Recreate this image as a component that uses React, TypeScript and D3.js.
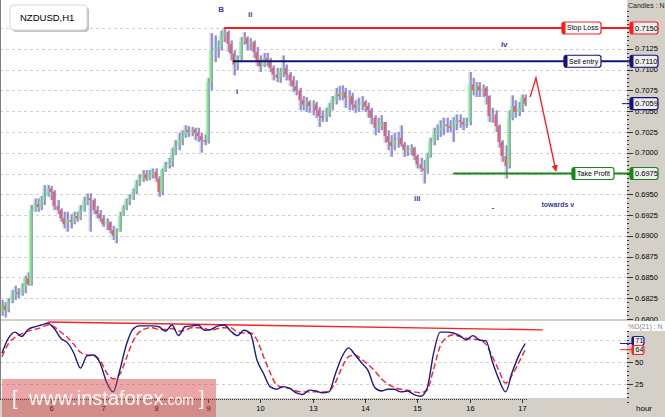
import React from "react";
import * as d3 from "d3";

// NZDUSD H1 candles, oldest first (open of each bar = previous close)
const firstOpen = 0.6804;
const highs = [
  0.6817, 0.6823, 0.682, 0.6825, 0.6835, 0.684, 0.6837, 0.6843, 0.6852, 0.6856,
  0.6937, 0.6945, 0.6945, 0.6948, 0.6961, 0.6961, 0.696, 0.6955, 0.6943, 0.6933,
  0.6929, 0.6929, 0.6926, 0.6929, 0.6929, 0.6937, 0.6947, 0.6951, 0.6951, 0.6945,
  0.6936, 0.6931, 0.6925, 0.6921, 0.6917, 0.6912, 0.6909, 0.6929, 0.6937, 0.6945,
  0.695, 0.6957, 0.6967, 0.6974, 0.6979, 0.6979, 0.6979, 0.6981, 0.6981, 0.6972,
  0.6981, 0.6989, 0.6994, 0.7006, 0.7015, 0.7024, 0.7027, 0.7033, 0.7032, 0.7031,
  0.703, 0.703, 0.7024, 0.7022, 0.709, 0.7144, 0.7141, 0.7135, 0.7147, 0.7151,
  0.7147, 0.7135, 0.7123, 0.7117, 0.7139, 0.7145, 0.714, 0.7138, 0.7135, 0.7127,
  0.7117, 0.712, 0.712, 0.7114, 0.7105, 0.7102, 0.7102, 0.7117, 0.7106, 0.7097,
  0.7092, 0.7087, 0.7078, 0.7068, 0.7067, 0.7063, 0.7063, 0.7061, 0.7055, 0.7051,
  0.7054, 0.706, 0.7068, 0.7078, 0.708, 0.7081, 0.7078, 0.7075, 0.7072, 0.7063,
  0.7066, 0.7068, 0.7063, 0.706, 0.7054, 0.7045, 0.7042, 0.7045, 0.7037, 0.7027,
  0.7021, 0.7024, 0.7025, 0.7033, 0.7013, 0.7009, 0.701, 0.7007, 0.6998, 0.6994,
  0.6991, 0.7, 0.7018, 0.703, 0.7034, 0.7039, 0.7042, 0.7042, 0.7039, 0.7043,
  0.7046, 0.7046, 0.7042, 0.7042, 0.7097, 0.709, 0.7085, 0.7085, 0.7082, 0.708,
  0.7069, 0.7054, 0.7051, 0.7034, 0.7015, 0.7009, 0.7051, 0.7069, 0.7063, 0.7061,
  0.707, 0.707,
];
const lows = [
  0.6801, 0.6804, 0.6802, 0.6808, 0.6819, 0.6823, 0.6825, 0.6828, 0.6831, 0.684,
  0.684, 0.6929, 0.6929, 0.6931, 0.6937, 0.6947, 0.6943, 0.6931, 0.6926, 0.6917,
  0.6909, 0.6905, 0.6909, 0.6914, 0.6917, 0.6919, 0.6929, 0.6937, 0.6905, 0.6926,
  0.6921, 0.6917, 0.6911, 0.6907, 0.6903, 0.6895, 0.6891, 0.6905, 0.6924, 0.6931,
  0.6937, 0.6943, 0.695, 0.696, 0.6965, 0.6966, 0.6967, 0.6969, 0.6965, 0.6947,
  0.6949, 0.6977, 0.6981, 0.6983, 0.6997, 0.7003, 0.7009, 0.7018, 0.7019, 0.702,
  0.7015, 0.7013, 0.7, 0.7009, 0.7011, 0.7075, 0.7109, 0.7114, 0.7123, 0.7133,
  0.7121, 0.7111, 0.7093, 0.7099, 0.7111, 0.713, 0.7123, 0.7123, 0.7114, 0.7104,
  0.7097, 0.7103, 0.7104, 0.7097, 0.7087, 0.7085, 0.7084, 0.7091, 0.7087, 0.708,
  0.7073, 0.7069, 0.7051, 0.7051, 0.7049, 0.7048, 0.7045, 0.7042, 0.7031, 0.7037,
  0.7037, 0.7043, 0.7051, 0.7058, 0.7063, 0.7063, 0.7054, 0.7051, 0.7051, 0.7048,
  0.7049, 0.7051, 0.7049, 0.7042, 0.7034, 0.7021, 0.7024, 0.7027, 0.7012, 0.7003,
  0.6995, 0.7003, 0.7006, 0.7007, 0.6995, 0.6996, 0.6997, 0.6991, 0.6981, 0.6977,
  0.6963, 0.6975, 0.6994, 0.7009, 0.7015, 0.7019, 0.7021, 0.7024, 0.7025, 0.7013,
  0.7027, 0.703, 0.7027, 0.703, 0.7033, 0.7069, 0.7067, 0.7067, 0.7067, 0.7058,
  0.7037, 0.7036, 0.7025, 0.7006, 0.6989, 0.6969, 0.6981, 0.7039, 0.7042, 0.7044,
  0.7049, 0.7056,
];
const closes = [
  0.6808, 0.6816, 0.6811, 0.6822, 0.6828, 0.6832, 0.683, 0.6837, 0.6849, 0.6842,
  0.6931, 0.6938, 0.6935, 0.6943, 0.6948, 0.6957, 0.6953, 0.6936, 0.6931, 0.6921,
  0.6914, 0.6919, 0.6917, 0.6924, 0.6921, 0.6931, 0.6941, 0.6945, 0.6943, 0.6931,
  0.6926, 0.6921, 0.6914, 0.6917, 0.6907, 0.69, 0.6905, 0.6924, 0.6933, 0.6941,
  0.6945, 0.6953, 0.6962, 0.6969, 0.6974, 0.6969, 0.6973, 0.6977, 0.6969, 0.6953,
  0.6979, 0.6985, 0.6989, 0.6997, 0.7008, 0.7015, 0.702, 0.7027, 0.7025, 0.7028,
  0.7024, 0.702, 0.7015, 0.7013, 0.7085, 0.7123, 0.7127, 0.7129, 0.714, 0.7145,
  0.7131, 0.7119, 0.7106, 0.7114, 0.7133, 0.7138, 0.7131, 0.7133, 0.7121, 0.7111,
  0.7104, 0.7114, 0.7111, 0.7102, 0.7094, 0.709, 0.7097, 0.7102, 0.7094, 0.7087,
  0.708, 0.7075, 0.7063, 0.7058, 0.7061, 0.7056, 0.7058, 0.7051, 0.7044, 0.7042,
  0.7046, 0.7056, 0.7063, 0.707, 0.7068, 0.7073, 0.7066, 0.7068, 0.7058, 0.7054,
  0.7058, 0.7061, 0.7056, 0.7051, 0.7042, 0.703, 0.7032, 0.7037, 0.702, 0.7013,
  0.7008, 0.7015, 0.7018, 0.701, 0.7003, 0.7003, 0.7006, 0.6996, 0.6986, 0.6981,
  0.6979, 0.6994, 0.7013, 0.7022, 0.7027, 0.703, 0.7034, 0.7032, 0.703, 0.7034,
  0.7039, 0.7037, 0.7034, 0.7037, 0.7082, 0.7075, 0.708, 0.7075, 0.7078, 0.7068,
  0.7044, 0.7046, 0.7032, 0.7013, 0.6996, 0.6984, 0.7042, 0.7056, 0.7049, 0.7054,
  0.7066, 0.7059,
];

// stochastic, sampled every second bar starting at bar 1
const kValues = [
  60, 77, 84, 79, 87, 90, 92, 94, 88, 77, 72, 60, 43, 57, 58, 49, 27, 16, 40, 69,
  87, 91, 91, 91, 90, 85, 92, 80, 90, 91, 92, 86, 87, 91, 92, 85, 80, 86, 82, 52,
  37, 22, 19, 22, 20, 15, 13, 18, 17, 15, 16, 37, 56, 66, 58, 49, 40, 21, 17, 19,
  19, 16, 17, 13, 11, 20, 60, 84, 84, 83, 80, 75, 80, 75, 74, 50, 30, 16, 38, 57,
  71,
];
const dValues = [
  56, 71, 78, 82, 85, 87, 89, 92, 90, 84, 78, 70, 61, 58, 57, 52, 38, 31, 36, 54,
  73, 84, 88, 89, 87, 87, 88, 85, 86, 89, 89, 88, 86, 88, 89, 89, 84, 83, 83, 75,
  56, 38, 24, 21, 20, 17, 16, 16, 16, 16, 17, 27, 44, 56, 58, 53, 47, 40, 31, 25,
  21, 19, 18, 16, 15, 18, 42, 68, 78, 81, 79, 77, 76, 75, 70, 56, 40, 26, 35, 49,
  64,
];

const dayLabels = ["6", "7", "8", "9", "10", "13", "14", "15", "16", "17"];
const barsPerDay = 16;
const priceTicks = d3.range(0.68, 0.7151, 0.0025);
const stochTicks = [25, 50, 75];

const levelNames = ["Stop Loss", "Sell entry", "Take Profit"];
const levelPrices = [0.715, 0.711, 0.6975];
const levelStartBars = [69, 71.6, 139];

const waveTexts = ["B", "ii", "i", "iii", "iv", "towards v", "-"];
const waveBars = [68, 76.9, 72.9, 128, 154.6, 171, 151.2];
const wavePrices = [0.7173, 0.7166, 0.7074, 0.6945, 0.7131, 0.6938, 0.6935];

const arrowBars = [162.5, 164.3, 170.4];
const arrowPrices = [0.7067, 0.709, 0.6978];

const trendBars = [15, 166.4];
const trendValues = [95.5, 86.5];

const lastK = 71;
const lastD = 64;

const W = 665;
const H = 417;
const PR = 627;
const FONT = "'Liberation Sans', Arial, sans-serif";

const x = d3.scaleLinear().domain([16, 160]).range([51, 521.9]);
const y = d3.scaleLinear().domain([0.68, 0.715]).range([319, 28]);
const yS = d3.scaleLinear().domain([0, 100]).range([406, 318]);

const COLORS = {
  sl: "#ff1a1a",
  entry: "#12127a",
  tp: "#138a13",
  wave: "#3a3a9c",
  k: "#1a1a8e",
  d: "#ff2020",
};
const levelColors = [COLORS.sl, COLORS.entry, COLORS.tp];

function Tag(props: {
  x0: number;
  yc: number;
  w: number;
  color: string;
  fill: string;
  text: string;
  h?: number;
  fs?: number;
  cap?: number;
}) {
  const h = props.h ?? 12;
  const cap = props.cap ?? 3.5;
  return (
    <g>
      <rect
        x={props.x0}
        y={props.yc - h / 2}
        width={props.w}
        height={h}
        rx={2.5}
        fill={props.fill}
        stroke={props.color}
        strokeWidth={1.2}
      />
      <rect
        x={props.x0}
        y={props.yc - h / 2}
        width={cap}
        height={h}
        rx={1.5}
        fill={props.color}
      />
      <text
        x={props.x0 + cap + 1.5}
        y={props.yc}
        dy="0.35em"
        fontSize={props.fs ?? 7.5}
        fill="#000"
      >
        {props.text}
      </text>
    </g>
  );
}

export default function App() {
  const opens = closes.map((_, i) => (i === 0 ? firstOpen : closes[i - 1]));

  const stochLine = d3
    .line<number>()
    .x((_, i) => x(1 + 2 * i))
    .y((v) => yS(v))
    .curve(d3.curveMonotoneX);

  const arrowPts: [number, number][] = arrowBars.map((b, i) => [
    x(b),
    y(arrowPrices[i]),
  ]);
  const lastClose = closes[closes.length - 1];

  return (
    <div style={{ position: "fixed", left: 0, top: 0 }}>
      <svg width={W} height={H} style={{ display: "block", fontFamily: FONT }}>
        <defs>
          <clipPath id="mainClip">
            <rect x={0} y={0} width={PR} height={319} />
          </clipPath>
          <clipPath id="stochClip">
            <rect x={0} y={321} width={PR} height={77} />
          </clipPath>
          <marker
            id="arrowHead"
            viewBox="0 0 10 10"
            refX={9}
            refY={5}
            markerWidth={5}
            markerHeight={5}
            orient="auto"
          >
            <path d="M0,0 L10,5 L0,10 z" fill={COLORS.sl} />
          </marker>
        </defs>

        {/* background */}
        <rect x={0} y={0} width={W} height={H} fill="#d4d0c8" />
        <rect x={0} y={0} width={PR} height={319} fill="#fff" />
        <rect x={0} y={321} width={PR} height={77} fill="#fff" />

        {/* main grid */}
        {priceTicks.map((p) => (
          <line
            key={"g" + p}
            x1={0}
            x2={PR}
            y1={Math.round(y(p)) + 0.5}
            y2={Math.round(y(p)) + 0.5}
            stroke="#cfcfcf"
            strokeDasharray="3,3"
          />
        ))}

        {/* candles */}
        <g clipPath="url(#mainClip)">
          {closes.map((c, i) => {
            const cx = Math.round(x(i));
            const o = opens[i];
            const top = y(Math.max(o, c));
            const bot = y(Math.min(o, c));
            return (
              <g key={"b" + i}>
                <rect
                  x={cx - 1.5}
                  y={y(highs[i])}
                  width={3}
                  height={y(lows[i]) - y(highs[i])}
                  fill="#bcbce0"
                  opacity={0.7}
                />
                <line
                  x1={cx + 1}
                  x2={cx + 1}
                  y1={y(highs[i])}
                  y2={y(lows[i])}
                  stroke="#5252b2"
                  strokeWidth={1}
                />
                <rect
                  x={cx - 1.5}
                  y={top}
                  width={2}
                  height={Math.max(1, bot - top)}
                  fill={c >= o ? "#78f878" : "#f65858"}
                />
              </g>
            );
          })}
        </g>

        {/* trade levels */}
        {levelPrices.map((p, i) => (
          <line
            key={"lv" + i}
            x1={x(levelStartBars[i])}
            x2={632}
            y1={y(p)}
            y2={y(p)}
            stroke={levelColors[i]}
            strokeWidth={2}
          />
        ))}

        {/* projected path */}
        <path
          d={d3.line()(arrowPts) ?? ""}
          fill="none"
          stroke={COLORS.sl}
          strokeWidth={1.3}
          markerEnd="url(#arrowHead)"
        />

        {/* wave labels */}
        {waveTexts.map((t, i) => (
          <text
            key={"w" + i}
            x={x(waveBars[i])}
            y={y(wavePrices[i])}
            dy="0.35em"
            textAnchor="middle"
            fontSize={t === "towards v" ? 7 : 8}
            fontWeight="bold"
            fill={COLORS.wave}
          >
            {t}
          </text>
        ))}

        {/* level labels */}
        <Tag x0={562} yc={y(levelPrices[0])} w={39} fs={7} color={COLORS.sl} fill="#fff" text={levelNames[0]} />
        <Tag x0={564} yc={y(levelPrices[1])} w={37} fs={7} color={COLORS.entry} fill="#fff" text={levelNames[1]} />
        <Tag x0={572} yc={y(levelPrices[2])} w={42} fs={7} color={COLORS.tp} fill="#fff" text={levelNames[2]} />

        {/* symbol box */}
        <rect x={12} y={7} width={77} height={25} rx={4} fill="#9a9a9a" opacity={0.6} />
        <rect x={10} y={5} width={77} height={25} rx={4} fill="#fff" stroke="#d8d8d8" />
        <text x={20} y={21} fontSize={9.5} fill="#000">
          NZDUSD,H1
        </text>

        {/* price axis */}
        {d3.range(0.6795, 0.7171, 0.0005).map((p) => (
          <line
            key={"mt" + p}
            x1={PR}
            x2={PR + 2}
            y1={Math.round(y(p)) + 0.5}
            y2={Math.round(y(p)) + 0.5}
            stroke="#333"
          />
        ))}
        {priceTicks.map((p) => (
          <g key={"pt" + p}>
            <line
              x1={PR + 2}
              x2={PR + 6}
              y1={Math.round(y(p)) + 0.5}
              y2={Math.round(y(p)) + 0.5}
              stroke="#333"
            />
            <text x={PR + 8} y={y(p)} dy="0.35em" fontSize={7.5} fill="#000">
              {p.toFixed(4)}
            </text>
          </g>
        ))}
        <text x={PR + 1} y={7.5} fontSize={7} fill="#222">
          Candles : N
        </text>

        {levelPrices.map((p, i) => (
          <Tag
            key={"pv" + i}
            x0={630}
            yc={y(p)}
            w={28}
            color={levelColors[i]}
            fill="#efefef"
            text={p.toFixed(4)}
          />
        ))}
        <line x1={622} x2={631} y1={y(lastClose)} y2={y(lastClose)} stroke={COLORS.entry} />
        <Tag
          x0={630}
          yc={y(lastClose)}
          w={28}
          color={COLORS.entry}
          fill="#efefef"
          text={lastClose.toFixed(4)}
        />

        {/* stochastic panel */}
        {stochTicks.map((v) => (
          <line
            key={"sg" + v}
            x1={0}
            x2={PR}
            y1={Math.round(yS(v)) + 0.5}
            y2={Math.round(yS(v)) + 0.5}
            stroke="#cfcfcf"
            strokeDasharray="3,3"
          />
        ))}
        <g clipPath="url(#stochClip)">
          <line
            x1={x(trendBars[0])}
            x2={x(trendBars[1])}
            y1={yS(trendValues[0])}
            y2={yS(trendValues[1])}
            stroke={COLORS.d}
            strokeWidth={1.4}
          />
          <path
            d={stochLine(dValues) ?? ""}
            fill="none"
            stroke={COLORS.d}
            strokeWidth={1.4}
            strokeDasharray="6,3"
          />
          <path
            d={stochLine(kValues) ?? ""}
            fill="none"
            stroke={COLORS.k}
            strokeWidth={1.4}
          />
        </g>
        {d3.range(5, 100, 5).map((v) => (
          <line
            key={"smt" + v}
            x1={PR}
            x2={PR + 2}
            y1={Math.round(yS(v)) + 0.5}
            y2={Math.round(yS(v)) + 0.5}
            stroke="#333"
          />
        ))}
        {stochTicks
          .filter((v) => v !== 75)
          .map((v) => (
            <g key={"st" + v}>
              <line
                x1={PR + 2}
                x2={PR + 6}
                y1={Math.round(yS(v)) + 0.5}
                y2={Math.round(yS(v)) + 0.5}
                stroke="#333"
              />
              <text x={PR + 8} y={yS(v)} dy="0.35em" fontSize={7.5} fill="#000">
                {v}
              </text>
            </g>
          ))}
        <rect x={PR} y={321} width={W - PR} height={10} fill="#fff" />
        <text x={PR + 1} y={329} fontSize={7} fill="#888">
          %D(21) : N
        </text>
        <line x1={620} x2={632} y1={yS(lastK)} y2={yS(lastK)} stroke={COLORS.k} />
        <line x1={620} x2={632} y1={yS(lastD)} y2={yS(lastD)} stroke={COLORS.d} />
        <Tag x0={632} yc={yS(lastK) - 2.5} w={12} h={9} fs={7} cap={2} color={COLORS.k} fill="#efefef" text={String(lastK)} />
        <Tag x0={632} yc={yS(lastK) + 6.5} w={12} h={9} fs={7} cap={2} color={COLORS.d} fill="#efefef" text={String(lastD)} />

        {/* time axis */}
        <line
          x1={0}
          x2={x(closes.length - 1) + 2}
          y1={399.5}
          y2={399.5}
          stroke="#333"
          strokeDasharray="1,1"
        />
        {dayLabels.map((d, i) => {
          const xx = Math.round(x((i + 1) * barsPerDay)) + 0.5;
          return (
            <g key={"d" + d}>
              <line x1={xx} x2={xx} y1={399} y2={403} stroke="#333" />
              <text x={xx} y={411} textAnchor="middle" fontSize={7.5} fill="#000">
                {d}
              </text>
            </g>
          );
        })}
        <text x={636} y={411} fontSize={8} fill="#000">
          hour
        </text>

        {/* left border */}
        <line x1={0.5} x2={0.5} y1={0} y2={399} stroke="#808080" />

        {/* watermark */}
        <rect x={2} y={379} width={214} height={38} fill="rgb(210,60,60)" opacity={0.45} />
        <text y={405} fill="#fff" opacity={0.92} fontSize={20}>
          <tspan x={12}>[</tspan>
          <tspan x={29}>www.instaforex</tspan>
          <tspan fontSize={14}>.com</tspan>
          <tspan x={199}>]</tspan>
        </text>
      </svg>
    </div>
  );
}
